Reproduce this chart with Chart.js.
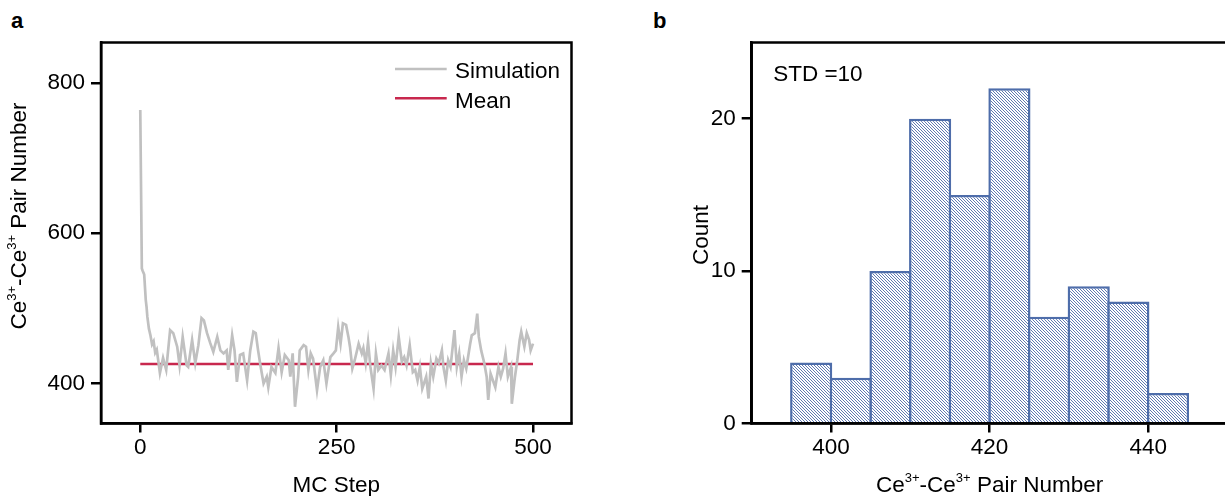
<!DOCTYPE html>
<html><head><meta charset="utf-8">
<script src="https://cdn.jsdelivr.net/npm/chart.js@4.4.1/dist/chart.umd.min.js"></script>
<style>
html,body{margin:0;padding:0;width:1225px;height:496px;overflow:hidden;background:#fff;}
#c1{position:absolute;left:0;top:0;}
#c2{position:absolute;left:620px;top:0;}
.pl{position:absolute;font:bold 22px "Liberation Sans",Arial,sans-serif;color:#000;line-height:1;}
</style></head><body>
<div class="pl" style="left:11px;top:10px">a</div>
<div class="pl" style="left:653px;top:10px">b</div>
<canvas id="c1" width="600" height="496"></canvas>
<canvas id="c2" width="620" height="496"></canvas>
<script>
// ---------- Panel a data ----------
const simSteps = [
  0,2,3,5,7,8,9,11,13,15,
  17,19,21,25,29,33,38,42,47,50,
  54,59,61,66,70,74,78,81,85,89,
  93,98,102,106,110,112,117,120,123,127,
  131,136,140,144,147,150,153,157,161,163,
  167,172,176,180,184,189,191,194,197,201,
  203,208,211,214,217,220,225,229,233,237,
  242,246,249,252,255,258,262,265,267,270,
  273,278,282,284,287,290,293,297,300,303,
  307,311,316,319,322,325,329,333,336,339,
  343,347,350,353,356,359,364,367,370,373,
  377,380,384,386,389,392,395,400,403,406,
  409,412,415,420,422,426,429,431,434,438,
  441,443,446,449,452,456,459,462,465,468,
  472,473,477,480,483,485,489,492,495,497,
  500];
const simValues = [
  764,553,550,545,511,502,489,473,464,452,
  456,441,445,414,434,418,471,467,449,424,
  462,424,422,458,427,451,487,484,467,454,
  442,462,444,440,444,418,464,444,402,438,
  440,404,444,469,467,444,424,400,409,395,
  422,414,447,415,438,431,409,440,369,409,
  444,451,449,418,440,433,391,422,431,400,
  435,440,444,475,453,480,478,462,449,420,
  431,453,440,447,427,455,422,393,440,418,
  424,418,440,411,444,422,462,429,435,424,
  451,415,418,404,422,393,409,380,427,409,
  433,427,444,422,404,431,422,471,422,440,
  409,431,420,453,464,467,493,462,444,427,
  409,378,413,404,395,422,409,420,440,409,
  422,373,409,431,458,469,449,467,458,444,
  453];
const meanValue = 426;
const aXTicks = [0, 250, 500];
const aYTicks = [400, 600, 800];

// ---------- Panel b data ----------
const binStarts = [395,400,405,410,415,420,425,430,435,440];
const binWidth = 5;
const counts = [4,3,10,20,15,22,7,9,8,2];
const bXTicks = [400, 420, 440];
const bYTicks = [0, 10, 20];
const stdValue = 10;

// ---------- styles ----------
const FONT = '"Liberation Sans", Arial, Helvetica, sans-serif';
const FS = 22.5;
const pairTitle = [{t:'Ce'},{t:'3+',sup:true},{t:'-Ce'},{t:'3+',sup:true},{t:' Pair Number'}];

function drawRich(ctx, segs, x, y, rotate) {
  ctx.save();
  ctx.translate(x, y);
  if (rotate) ctx.rotate(-Math.PI/2);
  const base = FS + 'px ' + FONT, sup = '13px ' + FONT;
  let w = 0;
  segs.forEach(s => { ctx.font = s.sup ? sup : base; w += ctx.measureText(s.t).width; });
  let cx = -w/2;
  ctx.textAlign = 'left'; ctx.textBaseline = 'alphabetic'; ctx.fillStyle = '#000';
  segs.forEach(s => {
    ctx.font = s.sup ? sup : base;
    ctx.fillText(s.t, cx, s.sup ? -9.3 : 0);
    cx += ctx.measureText(s.t).width;
  });
  ctx.restore();
}

function axis(min, max, ticks, afterFit, tickLen, pad) {
  return {
    type: 'linear', min, max, offset: false,
    afterBuildTicks: s => { s.ticks = ticks.map(v => ({value: v})); },
    afterFit,
    ticks: {color:'#000', font:{family:FONT, size:FS}, padding:pad, maxRotation:0, autoSkip:false, callback: v => String(v)},
    grid: {offset:false, drawOnChartArea:false, drawTicks:true, tickLength:tickLen, tickWidth:2.5, tickColor:'#000', lineWidth:2.5, color:'#000'},
    border: {display:true, color:'#000', width:2.5},
    title: {display:false}
  };
}

const boxPlugin = {
  id: 'box',
  afterDraw(chart) {
    const a = chart.chartArea, ctx = chart.ctx;
    ctx.save(); ctx.strokeStyle = '#000'; ctx.lineWidth = 2.5;
    ctx.strokeRect(a.left, a.top, a.right - a.left, a.bottom - a.top);
    ctx.restore();
    const t = chart.options.plugins.box;
    if (t.xTitle) drawRich(ctx, t.xTitle, (a.left + a.right)/2, 491.5, false);
    if (t.yTitle) drawRich(ctx, t.yTitle, t.yX, t.yY, true);
  }
};

const legendPlugin = {
  id: 'lg',
  afterDraw(chart) {
    const ctx = chart.ctx, a = chart.chartArea;
    chart.data.datasets.forEach((d, i) => {
      const y = a.top + 26.5 + i * 29.3;
      ctx.save();
      ctx.strokeStyle = d.borderColor; ctx.lineWidth = 2.5;
      ctx.beginPath(); ctx.moveTo(a.right - 176.5, y); ctx.lineTo(a.right - 124.8, y); ctx.stroke();
      ctx.font = FS + 'px ' + FONT; ctx.fillStyle = '#000'; ctx.textBaseline = 'alphabetic';
      ctx.fillText(d.label, a.right - 116.5, y + 9.2);
      ctx.restore();
    });
  }
};

const stdPlugin = {
  id: 'std',
  afterDraw(chart) {
    const ctx = chart.ctx, a = chart.chartArea;
    ctx.save(); ctx.font = FS + 'px ' + FONT; ctx.fillStyle = '#000'; ctx.textBaseline = 'alphabetic';
    ctx.fillText('STD =' + stdValue, a.left + 21.5, a.top + 38.2);
    ctx.restore();
  }
};

// ---------- Chart a ----------
new Chart(document.getElementById('c1'), {
  type: 'line',
  data: {
    datasets: [
      {label:'Simulation', data: simSteps.map((s, i) => ({x: s, y: simValues[i]})),
       borderColor:'#c0c0c0', borderWidth:2.7, pointRadius:0, tension:0},
      {label:'Mean', data: [{x: simSteps[0], y: meanValue}, {x: simSteps[simSteps.length-1], y: meanValue}],
       borderColor:'#c8284e', borderWidth:2.5, pointRadius:0}
    ]
  },
  options: {
    responsive:false, animation:false, devicePixelRatio:1,
    layout: {padding: {left:0, top:42.5, right:28.5, bottom:0}},
    scales: {
      x: axis(-50, 549, aXTicks, s => { s.height = 72.5; }, 9, 2),
      y: axis(346.7, 854, aYTicks, s => { s.width = 101; }, 10, 6)
    },
    plugins: {
      legend:{display:false}, tooltip:{enabled:false},
      box: {xTitle:[{t:'MC Step'}], yTitle:pairTitle, yX:25.5, yY:216}
    }
  },
  plugins: [boxPlugin, legendPlugin]
});

// ---------- Chart b ----------
function hatch() {
  const n = 3, c = document.createElement('canvas');
  c.width = n; c.height = n;
  const g = c.getContext('2d');
  g.fillStyle = '#fff'; g.fillRect(0, 0, n, n);
  g.strokeStyle = '#4f6ba9'; g.lineWidth = 0.9;
  g.beginPath();
  g.moveTo(0, 0); g.lineTo(n, n);
  g.moveTo(-1, n - 1); g.lineTo(1, n + 1);
  g.moveTo(n - 1, -1); g.lineTo(n + 1, 1);
  g.stroke();
  return g.createPattern(c, 'repeat');
}
new Chart(document.getElementById('c2'), {
  type: 'bar',
  data: {
    datasets: [{
      label:'Count',
      data: binStarts.map((b, i) => ({x: b + binWidth/2, y: counts[i]})),
      backgroundColor: hatch(), borderColor:'#4e6daa', borderWidth:2.5, borderSkipped:'start',
      barPercentage:1.063, categoryPercentage:1, grouped:false
    }]
  },
  options: {
    responsive:false, animation:false, devicePixelRatio:1,
    layout: {padding: {left:0, top:42.5, right:12.5, bottom:0}},
    scales: {
      x: axis(390, 450, bXTicks, s => { s.height = 72.5; }, 9, 2),
      y: axis(0, 25, bYTicks, s => { s.width = 131.7; }, 10, 6)
    },
    plugins: {
      legend:{display:false}, tooltip:{enabled:false},
      box: {xTitle:pairTitle, yTitle:[{t:'Count'}], yX:88, yY:235}
    }
  },
  plugins: [boxPlugin, stdPlugin]
});
</script>
</body></html>
